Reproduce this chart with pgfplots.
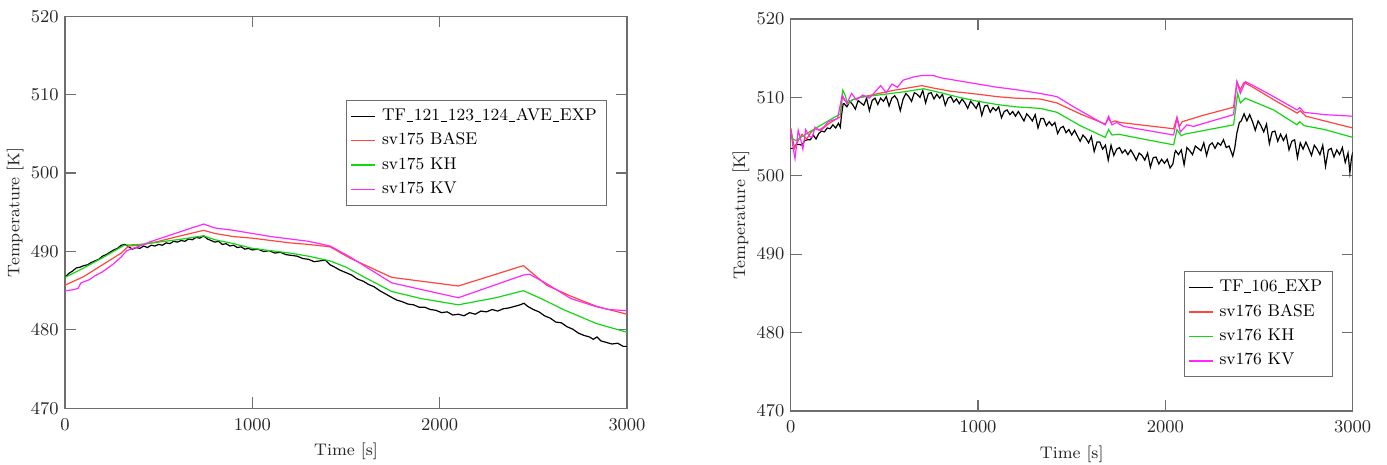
\documentclass[border=0pt]{standalone}
\usepackage{pgfplots}
\pgfplotsset{compat=1.18}
\definecolor{cred}{RGB}{255,70,60}
\definecolor{cgreen}{RGB}{20,215,20}
\definecolor{cmag}{RGB}{255,40,255}
\definecolor{cframe}{RGB}{110,110,110}
\definecolor{ctext}{RGB}{40,40,40}
\newcommand\us{\kern0.03em\rule[-0.7pt]{0.4em}{0.45pt}\kern0.03em}
\pgfplotsset{
  myax/.style={
    scale only axis, width=281pt, height=196pt,
    xmin=0, xmax=3000, ymin=470, ymax=520,
    xtick={0,1000,2000,3000}, ytick={470,480,490,500,510,520},
    tick align=inside, major tick length=5.5pt,
    axis line style={cframe, line width=0.6pt},
    tick style={cframe, line width=0.6pt},
    /pgf/number format/set thousands separator={},
    ticklabel style={font=\fontsize{9.2}{11}\selectfont, text=ctext},
    xticklabel style={anchor=north, inner sep=0pt, yshift=-5pt},
    yticklabel style={anchor=east, inner sep=0pt, xshift=-3pt},
    label style={font=\fontsize{8.4}{10}\selectfont, text=ctext},
    xlabel={Time [s]}, ylabel={Temperature [K]},
    xlabel style={at={(axis description cs:0.5,-0.088)}, anchor=north, inner sep=0pt},
    ylabel style={at={(axis description cs:-0.073,0.5)}, anchor=south, rotate=0, inner sep=0pt},
    legend cell align=left,
    legend image code/.code={\draw[#1, line width=0.7pt] (0pt,0pt) -- (12pt,0pt);},
    legend style={draw=cframe, line width=0.6pt, fill=white, inner xsep=2pt, inner ysep=2.5pt,
      font=\fontsize{8.5}{10}\selectfont, row sep=1.2pt,
      nodes={inner xsep=3pt, inner ysep=1.5pt, text height=6pt, text depth=2pt}},
    every axis plot/.append style={line width=0.6pt},
  }
}
\begin{document}
\begin{tikzpicture}
\useasboundingbox (0,0) rectangle (693.5pt,232.5pt);
\begin{axis}[myax, at={(32.5pt,28.35pt)}, anchor=south west,
  legend style={at={(0.5,0.787)}, anchor=north west}]
\addplot[black] coordinates {
(0,486.7)(20,487.2)(40,487.5)(60,487.9)(80,488.0)(100,488.2)(120,488.3)(140,488.6)(160,488.8)(180,489.0)
(200,489.4)(220,489.6)(240,489.9)(260,490.2)(280,490.4)(300,490.8)(320,490.9)(340,490.6)(360,490.3)(380,490.5)
(400,490.4)(420,490.7)(440,490.5)(460,490.8)(480,490.7)(500,490.9)(520,490.8)(540,491.1)(560,491.0)(580,491.3)
(600,491.2)(620,491.4)(640,491.3)(660,491.6)(680,491.5)(700,491.8)(720,491.7)(740,492.0)(760,491.6)(780,491.4)
(800,491.2)(820,491.3)(840,490.9)(860,491.0)(880,490.7)(900,490.8)(920,490.5)(940,490.6)(960,490.3)(980,490.4)
(1000,490.2)(1030,490.3)(1060,490.0)(1090,490.1)(1120,489.8)(1150,489.9)(1180,489.6)(1210,489.5)(1240,489.4)(1270,489.1)
(1300,489.0)(1330,488.7)(1360,488.8)(1390,488.9)(1415,488.3)(1440,488.0)(1470,487.6)(1500,487.3)(1530,487.0)(1560,486.5)
(1593,486.2)(1620,485.8)(1650,485.5)(1680,485.0)(1710,484.6)(1740,484.2)(1771,483.8)(1800,483.6)(1830,483.3)(1860,483.2)
(1890,482.9)(1920,482.9)(1950,482.6)(1980,482.5)(2010,482.2)(2040,482.3)(2070,481.9)(2100,482.0)(2130,481.8)(2160,482.2)
(2190,482.0)(2220,482.4)(2250,482.3)(2280,482.6)(2310,482.4)(2340,482.7)(2370,482.8)(2400,483.0)(2430,483.2)(2450,483.4)
(2470,483.0)(2500,482.6)(2530,482.3)(2560,481.8)(2590,481.5)(2620,481.0)(2650,480.9)(2680,480.4)(2710,480.1)(2740,479.6)
(2770,479.3)(2800,479.1)(2820,478.8)(2840,479.1)(2860,478.6)(2890,478.4)(2920,478.2)(2950,478.3)(2980,477.9)(3000,477.9)
};
\addlegendentry{TF\us121\us123\us124\us AVE\us EXP}
\addplot[cred] coordinates {
(0,485.7)(100,486.8)(200,488.3)(300,489.8)(340,490.7)(400,490.8)(500,491.3)(600,491.9)(740,492.7)(800,492.3)
(900,491.9)(1000,491.7)(1100,491.4)(1200,491.1)(1300,490.9)(1415,490.6)(1522,489.15)(1744,486.7)(2100,485.6)(2447,488.2)
(2571,485.7)(2700,484.3)(2838,483.0)(3000,482.0)
};
\addlegendentry{sv175 BASE}
\addplot[cgreen] coordinates {
(0,486.7)(100,487.9)(200,489.2)(316,490.8)(400,490.9)(500,491.2)(600,491.5)(740,492.0)(800,491.5)(900,491.0)
(1000,490.4)(1100,490.1)(1200,489.8)(1300,489.4)(1415,488.8)(1500,488.0)(1600,486.7)(1744,484.9)(1900,484.0)(2100,483.2)
(2300,484.1)(2447,485.0)(2550,483.9)(2660,482.6)(2838,480.8)(3000,479.7)
};
\addlegendentry{sv175 KH}
\addplot[cmag] coordinates {
(0,485.0)(40,485.1)(70,485.3)(85,486.0)(130,486.4)(160,486.9)(200,487.4)(258,488.4)(300,489.3)(329,490.1)
(400,490.7)(450,491.2)(550,492.0)(650,492.8)(740,493.5)(800,493.0)(900,492.7)(1000,492.3)(1100,491.9)(1200,491.6)
(1300,491.3)(1415,490.7)(1522,489.3)(1744,486.0)(2100,484.1)(2447,487.0)(2480,487.1)(2571,485.9)(2700,484.0)(2838,482.95)
(2900,482.6)(3000,482.45)
};
\addlegendentry{sv175 KV}
\end{axis}
\begin{axis}[myax, at={(395.35pt,27pt)}, anchor=south west,
  legend style={at={(0.699,0.357)}, anchor=north west}]
\addplot[black] coordinates {
(0,503.5)(15,503.5)(30,504.0)(45,504.0)(60,503.9)(75,504.5)(90,504.6)(105,504.6)(120,505.2)(135,504.7)
(150,505.4)(165,505.7)(180,505.6)(195,506.1)(210,506.0)(225,506.5)(240,506.1)(255,506.7)(265,506.2)(270,507.5)
(280,509.2)(285,509.2)(300,508.8)(315,509.5)(330,509.1)(345,508.5)(360,509.6)(375,509.3)(390,509.0)(405,509.9)
(420,508.3)(435,509.6)(450,509.9)(465,509.1)(480,509.9)(495,509.5)(510,510.1)(525,508.9)(540,509.9)(555,510.2)
(570,509.7)(585,508.3)(600,509.8)(615,510.5)(630,510.1)(645,509.5)(660,510.6)(675,510.4)(690,510.0)(705,510.9)
(720,509.3)(735,510.5)(750,510.6)(765,509.8)(780,510.4)(795,509.9)(810,510.4)(825,509.0)(840,509.9)(855,510.1)
(870,509.4)(885,509.8)(900,509.2)(915,509.8)(930,509.3)(945,508.6)(960,509.5)(975,509.1)(990,508.6)(1005,509.4)
(1020,507.7)(1035,508.9)(1050,509.0)(1065,508.1)(1080,508.7)(1095,508.3)(1110,508.8)(1125,507.4)(1140,508.2)(1155,508.4)
(1170,507.8)(1185,508.2)(1200,507.6)(1215,508.2)(1230,507.6)(1245,507.0)(1260,507.9)(1275,507.5)(1290,507.0)(1305,507.8)
(1320,506.1)(1335,507.3)(1350,507.3)(1365,506.4)(1380,506.9)(1395,506.4)(1410,506.8)(1425,505.4)(1440,506.1)(1455,506.3)
(1470,505.5)(1485,505.9)(1500,505.2)(1515,505.8)(1530,505.1)(1545,504.4)(1560,505.2)(1575,504.8)(1590,504.2)(1605,505.0)
(1620,503.1)(1635,504.3)(1650,504.3)(1665,503.4)(1680,503.9)(1695,502.0)(1710,503.9)(1725,502.6)(1740,503.4)(1755,503.6)
(1770,502.9)(1785,503.3)(1800,502.7)(1815,503.3)(1830,502.7)(1845,502.0)(1860,502.9)(1875,502.6)(1890,502.0)(1905,502.9)
(1920,501.1)(1935,502.3)(1950,502.4)(1965,501.5)(1980,502.1)(1995,501.6)(2010,502.1)(2025,501.0)(2040,501.5)(2050,502.9)
(2055,503.2)(2070,502.7)(2085,503.3)(2100,501.4)(2115,503.6)(2130,503.2)(2145,502.7)(2160,503.8)(2175,503.5)(2190,503.2)
(2205,504.2)(2220,502.6)(2235,503.9)(2250,504.2)(2265,503.5)(2280,504.2)(2295,503.9)(2310,504.6)(2325,503.6)(2340,503.8)
(2360,502.5)(2370,503.5)(2382,505.5)(2395,506.8)(2405,507.0)(2420,507.9)(2435,507.0)(2450,507.8)(2465,506.9)(2480,505.8)
(2495,507.0)(2510,506.4)(2525,505.6)(2540,506.6)(2555,504.1)(2570,505.6)(2585,505.7)(2600,504.4)(2615,505.3)(2630,504.5)
(2645,505.2)(2660,503.3)(2675,504.4)(2690,504.6)(2705,502.3)(2720,504.2)(2735,503.4)(2750,504.3)(2765,503.5)(2780,502.6)
(2795,503.9)(2810,503.4)(2825,502.7)(2840,503.9)(2855,501.2)(2870,503.3)(2885,503.5)(2900,502.4)(2915,503.3)(2930,502.7)
(2945,503.6)(2960,501.7)(2975,502.9)(2985,500.4)(2993,502.2)(3000,503.0)
};
\addlegendentry{TF\us106\us EXP}
\addplot[cred] coordinates {
(0,506.1)(10,504.8)(20,503.5)(40,504.5)(60,505.3)(85,504.7)(110,505.6)(130,506.0)(160,505.8)(200,506.6)
(240,507.2)(265,507.5)(275,510.0)(290,509.6)(305,509.2)(330,509.7)(370,510.0)(450,510.4)(550,510.9)(650,511.3)
(700,511.5)(760,511.2)(850,510.8)(1000,510.4)(1100,510.1)(1200,509.9)(1330,509.8)(1420,509.3)(1545,507.9)(1679,506.6)
(1697,507.3)(1710,506.8)(1730,507.0)(1760,506.8)(1900,506.4)(2044,506.0)(2062,507.5)(2075,506.3)(2090,506.9)(2200,507.7)
(2364,508.75)(2382,512.0)(2400,511.0)(2420,511.9)(2460,511.4)(2578,509.7)(2703,508.0)(2720,508.3)(2750,507.6)(2850,507.0)
(3000,506.1)
};
\addlegendentry{sv176 BASE}
\addplot[cgreen] coordinates {
(0,505.6)(10,504.7)(30,504.5)(60,505.0)(100,505.6)(150,506.3)(200,507.0)(265,507.9)(278,510.9)(290,510.3)
(305,509.2)(330,509.7)(370,510.0)(500,510.4)(600,510.7)(710,511.1)(800,510.6)(900,510.0)(1000,509.5)(1100,509.1)
(1200,508.8)(1332,508.6)(1421,508.1)(1545,506.4)(1679,504.9)(1697,505.9)(1715,505.2)(1750,505.3)(1900,504.6)(2044,503.95)
(2062,505.9)(2085,505.1)(2100,505.3)(2364,506.5)(2386,510.5)(2400,509.3)(2427,509.9)(2578,508.4)(2703,506.5)(2717,506.9)
(2740,506.4)(2850,505.9)(3000,504.9)
};
\addlegendentry{sv176 KH}
\addplot[cmag] coordinates {
(0,506.0)(10,504.0)(23,502.2)(40,505.8)(55,504.5)(65,503.4)(80,505.9)(100,505.0)(115,504.9)(130,506.2)
(150,505.8)(180,506.3)(200,506.9)(250,507.3)(275,510.3)(300,509.2)(325,510.5)(350,509.7)(385,510.3)(420,509.9)
(480,511.5)(510,510.6)(540,511.7)(570,511.3)(600,512.2)(655,512.6)(700,512.8)(762,512.8)(800,512.5)(900,512.1)
(1000,511.7)(1100,511.3)(1200,511.0)(1332,510.5)(1421,510.1)(1510,508.8)(1679,506.5)(1697,507.6)(1715,506.5)(1740,506.8)
(1776,506.3)(1900,505.8)(2044,505.2)(2062,507.3)(2080,505.6)(2115,506.5)(2150,506.3)(2364,507.8)(2382,512.0)(2400,510.5)
(2427,512.0)(2470,511.5)(2578,510.1)(2703,508.4)(2717,508.7)(2740,508.1)(2850,507.8)(3000,507.6)
};
\addlegendentry{sv176 KV}
\end{axis}
\end{tikzpicture}
\end{document}
